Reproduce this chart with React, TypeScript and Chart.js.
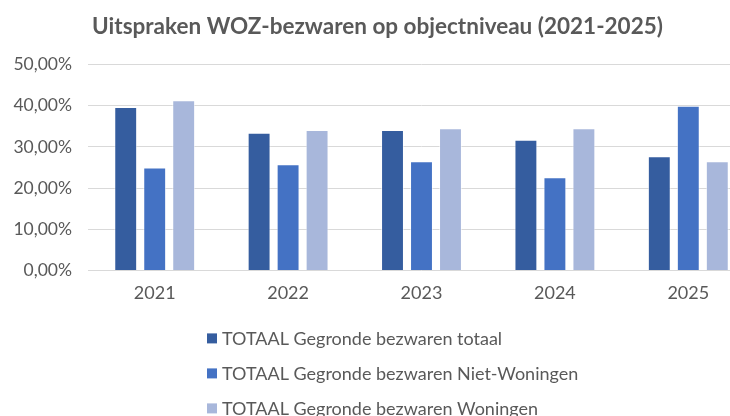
import React, { useEffect, useRef } from 'react';
import { Chart, registerables } from 'chart.js';

Chart.register(...registerables);

const categories = ['2021', '2022', '2023', '2024', '2025'];
const seriesLabels = [
  'TOTAAL Gegronde bezwaren totaal',
  'TOTAAL Gegronde bezwaren Niet-Woningen',
  'TOTAAL Gegronde bezwaren Woningen',
];
const totaal = [39.7, 33.4, 34.1, 31.7, 27.7];
const nietWoningen = [25.0, 25.8, 26.5, 22.6, 40.0];
const woningen = [41.3, 34.1, 34.5, 34.5, 26.5];
const yTickValues = [0, 10, 20, 30, 40, 50];
const colors = ['#355D9F', '#4472C4', '#A8B7DB'];

const TEXT = '#595959';
const FONT = 'Lato, "Noto Sans", sans-serif';

const legendPlugin = {
  id: 'columnLegend',
  afterDraw(chart: any) {
    const ctx = chart.ctx;
    const area = chart.chartArea;
    const x0 = chart.width / 2 - 173;
    const y0 = area.bottom + 68;
    ctx.save();
    ctx.font = `18px ${FONT}`;
    ctx.textBaseline = 'middle';
    ctx.textAlign = 'left';
    chart.data.datasets.forEach((ds: any, i: number) => {
      const y = y0 + i * 35;
      ctx.fillStyle = ds.backgroundColor;
      ctx.fillRect(x0, y - 5, 10, 10);
      ctx.fillStyle = TEXT;
      ctx.fillText(ds.label, x0 + 15, y + 1);
    });
    ctx.restore();
  },
};

export default function App() {
  const ref = useRef<HTMLCanvasElement | null>(null);

  useEffect(() => {
    if (!ref.current) return;
    const series = [totaal, nietWoningen, woningen];
    const chart = new Chart(ref.current, {
      type: 'bar',
      data: {
        labels: categories,
        datasets: series.map((d, i) => ({
          label: seriesLabels[i],
          data: d,
          backgroundColor: colors[i],
          borderColor: 'rgba(255,255,255,0.55)',
          borderWidth: 1,
          categoryPercentage: 0.652,
          barPercentage: 0.79,
        })),
      },
      options: {
        responsive: false,
        animation: false,
        layout: { padding: { left: 0, right: 5, top: 0, bottom: 100 } },
        plugins: {
          legend: { display: false },
          tooltip: { enabled: false },
          title: {
            display: true,
            text: 'Uitspraken WOZ-bezwaren op objectniveau (2021-2025)',
            color: TEXT,
            font: { family: FONT, size: 22.5, weight: 'bold' },
            padding: { top: 13, bottom: 24.5 },
          },
        },
        scales: {
          x: {
            grid: { display: false, drawTicks: false },
            border: { display: false },
            ticks: { color: TEXT, font: { family: FONT, size: 18 }, padding: 12 },
          },
          y: {
            min: 0,
            max: 50,
            afterBuildTicks: (s: any) => {
              s.ticks = yTickValues.map((v) => ({ value: v }));
            },
            afterFit: (s: any) => {
              s.width = 88;
            },
            grid: { color: '#D9D9D9', drawTicks: false, lineWidth: 1 },
            border: { display: false },
            ticks: {
              color: TEXT,
              font: { family: FONT, size: 17.5 },
              padding: 16,
              callback: (v: any) => Number(v).toFixed(2).replace('.', ',') + '%',
            },
          },
        },
      },
      plugins: [legendPlugin],
    });
    return () => chart.destroy();
  }, []);

  return (
    <div
      style={{
        position: 'fixed',
        left: 0,
        top: 0,
        width: 730,
        height: 416,
        overflow: 'hidden',
        background: '#fff',
      }}
    >
      <canvas ref={ref} width={760} height={416} style={{ display: 'block' }} />
    </div>
  );
}
